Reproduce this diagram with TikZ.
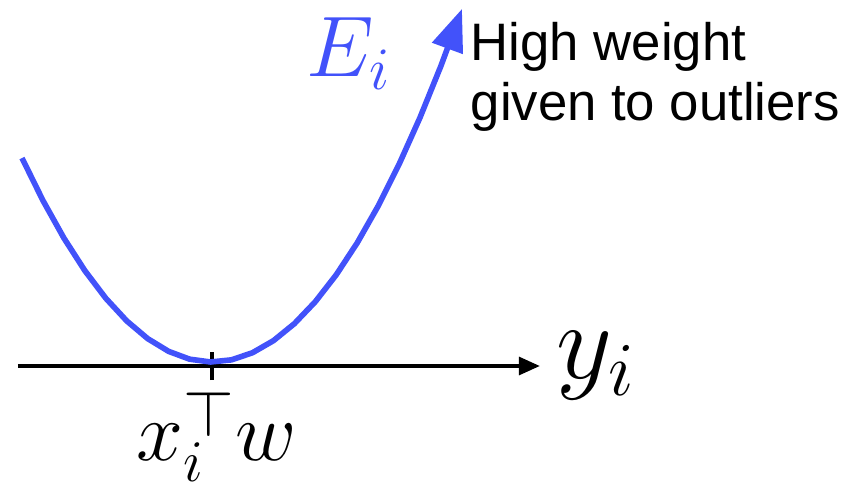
\RequirePackage{fix-cm}
\documentclass[tikz,border=0pt]{standalone}
\usepackage{amsmath,amssymb}
\usepackage{fontspec}
\newfontfamily\notefont{Liberation Sans}
\usetikzlibrary{arrows.meta,positioning}
\definecolor{lossblue}{RGB}{66,82,250}

\begin{document}
\begin{tikzpicture}[scale=1.0,
  axisline/.style={line width=1.2pt,-{Triangle[length=6pt,width=5pt]}},
  losscurve/.style={line width=1.6pt,lossblue,line join=round,-{Triangle[length=12pt,width=9pt]}}]
\useasboundingbox (0,0) rectangle (8.5,4.88);

\coordinate (axstart) at (0.18,1.22);
\coordinate (axend) at (5.40,1.22);
\draw[axisline] (axstart) -- (axend) node[right,inner sep=4pt] (ylab) {\fontsize{31}{35}\selectfont $y_i$};

\coordinate (ticktop) at (2.12,1.36);
\coordinate (tickbot) at (2.12,1.08);
\draw[line width=1.2pt] (tickbot) -- (ticktop);

\draw[losscurve,domain=0.22:4.62,samples=22,variable=\t] plot ({\t},{1.26+0.565*(\t-2.12)^2});

\node[anchor=base west,inner sep=0pt,text=lossblue] (elab) at (3.06,4.11) {\fontsize{24.5}{28}\selectfont $E_i$};
\node[anchor=base,inner sep=0pt] (xwlab) at (2.17,0.28) {\fontsize{24}{28}\selectfont $x_i^{\raisebox{-2pt}[\height][0pt]{\fontsize{18.5}{20}\selectfont$\top$}} w$};
\node[anchor=north west,inner sep=0pt,align=left,font=\notefont\fontsize{15}{17.1}\selectfont] (note) at (4.70,4.66) {High weight\\given to outliers};

\end{tikzpicture}
\end{document}
